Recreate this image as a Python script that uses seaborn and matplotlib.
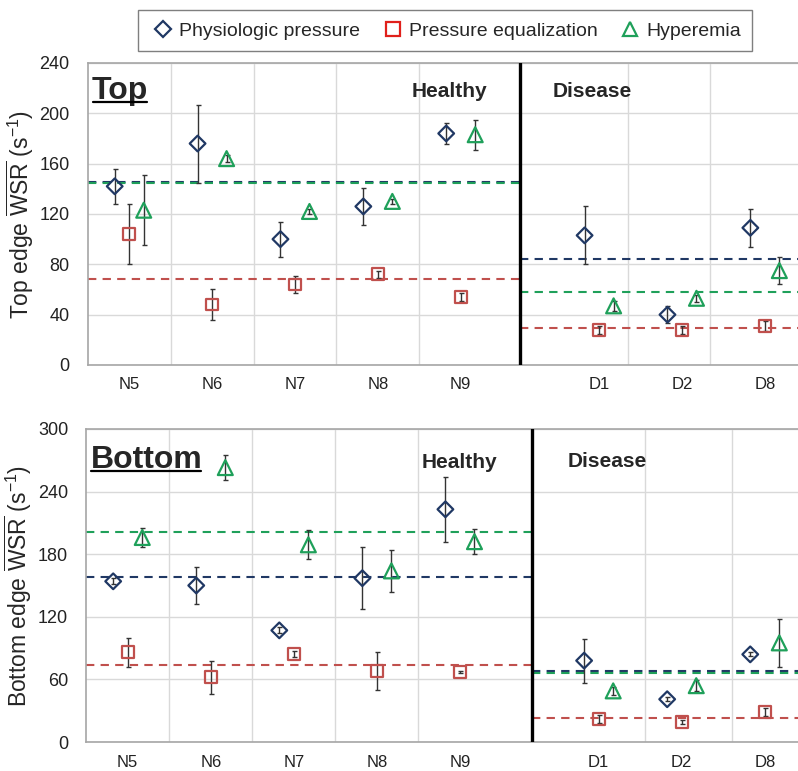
import numpy as np
import pandas as pd
import matplotlib
matplotlib.use("Agg")
import matplotlib.pyplot as plt
from matplotlib.lines import Line2D
from matplotlib.transforms import IdentityTransform
import seaborn as sns

# ==============================
# DATOS
# ==============================

healthy = ["N5", "N6", "N7", "N8", "N9"]
disease = ["D1", "D2", "D8"]
series = ["Physiologic pressure", "Pressure equalization", "Hyperemia"]

# Top edge WSR (s^-1): media y barra de error
top_phys = [142, 176, 100, 126, 184, 103, 40, 109]
top_phys_err = [14, 31, 14, 15, 8, 23, 7, 15]
top_press = [104, 48, 64, 72, 54, 28, 28, 31]
top_press_err = [24, 12, 7, 3, 3, 3, 3, 4]
top_hyp = [123, 164, 122, 130, 183, 47, 53, 75]
top_hyp_err = [28, 3, 2, 2, 12, 4, 3, 11]

# Bottom edge WSR (s^-1)
bot_phys = [154, 150, 107, 157, 223, 78, 41, 84]
bot_phys_err = [3, 18, 3, 30, 31, 21, 2, 2]
bot_press = [86, 62, 84, 68, 67, 22, 19, 29]
bot_press_err = [14, 16, 3, 18, 1, 4, 2, 4]
bot_hyp = [196, 263, 189, 164, 192, 49, 54, 95]
bot_hyp_err = [9, 12, 14, 20, 12, 4, 5, 23]

# ==============================
# ESTILO
# ==============================

sns.set_theme(style="whitegrid")
plt.rcParams["font.family"] = ["Liberation Sans", "DejaVu Sans"]
plt.rcParams["mathtext.fontset"] = "custom"
plt.rcParams["mathtext.rm"] = "Liberation Sans"
plt.rcParams["mathtext.it"] = "Liberation Sans:italic"
plt.rcParams["mathtext.bf"] = "Liberation Sans:bold"

COLORS = ["#203864", "#C0504D", "#1FA05A"]
MARKERS = ["D", "s", "^"]
SIZES = [64, 72, 115]
OFFSETS = [-0.175, 0.0, 0.175]
GRID = "#D9D9D9"
SPINE = "#A6A6A6"

x_pos = np.array([0, 1, 2, 3, 4, 5.67, 6.67, 7.67])
labels = healthy + disease


def panel(ax, values, errors, ymax, ystep, divider, d_grid, title, title_pos,
          hpos, dpos, ylabel):
    nh = len(healthy)
    rows = []
    for name, vals, errs in zip(series, values, errors):
        for lab, xp, v, e in zip(labels, x_pos, vals, errs):
            rows.append({"serie": name, "cat": lab, "x": xp, "y": v, "err": e})
    df = pd.DataFrame(rows)

    # lineas de media por grupo
    for name, col in zip(series, COLORS):
        sub = df[df["serie"] == name]
        mh = sub["y"].iloc[:nh].mean()
        md = sub["y"].iloc[nh:].mean()
        ax.hlines(mh, -0.5, divider, colors=col, linestyles=(0, (4, 3)), lw=1.5, zorder=2)
        ax.hlines(md, divider, 8.07, colors=col, linestyles=(0, (4, 3)), lw=1.5, zorder=2)

    for name, col, mk, sz, off in zip(series, COLORS, MARKERS, SIZES, OFFSETS):
        sub = df[df["serie"] == name]
        xs = sub["x"].values + off
        ax.errorbar(xs, sub["y"], yerr=sub["err"], fmt="none", ecolor="#333333",
                    elinewidth=1.0, capsize=1.8, capthick=1.0, zorder=3)
        sns.scatterplot(x=xs, y=sub["y"].values, marker=mk, s=sz, color=col,
                        facecolor="none", edgecolor=col, linewidth=1.6, ax=ax, zorder=4)

    ax.axvline(divider, color="black", lw=2.4, zorder=5)

    ax.set_xlim(-0.5, 8.07)
    ax.set_ylim(0, ymax)
    ax.set_yticks(np.arange(0, ymax + 1, ystep))
    ax.set_xticks(x_pos)
    ax.set_xticklabels(labels)
    ax.set_xticks([0.5, 1.5, 2.5, 3.5] + d_grid, minor=True)
    ax.grid(False)
    ax.grid(True, axis="y", which="major", color=GRID, lw=1.0)
    ax.grid(True, axis="x", which="minor", color=GRID, lw=1.0)
    ax.tick_params(axis="both", which="both", length=0)
    ax.tick_params(axis="y", labelsize=13, pad=13, colors="#222222")
    ax.tick_params(axis="x", labelsize=12, pad=9, colors="#222222")
    for s in ax.spines.values():
        s.set_color(SPINE)
        s.set_linewidth(1.2)
    ax.spines["right"].set_visible(False)
    ax.set_ylabel(ylabel, fontsize=16.5)

    t = ax.text(title_pos[0], title_pos[1], title, transform=ax.transAxes,
                fontsize=23, fontweight="bold", ha="left", va="baseline")
    ax.text(hpos[0], hpos[1], "Healthy", transform=ax.transAxes, fontsize=15,
            fontweight="bold", ha="right", va="baseline")
    ax.text(dpos[0], dpos[1], "Disease", transform=ax.transAxes, fontsize=15,
            fontweight="bold", ha="left", va="baseline")
    return t


fig = plt.figure(figsize=(7.98, 7.71), dpi=100)
ax_top = fig.add_axes([0.110, 0.5266, 0.890, 0.3917])
ax_bot = fig.add_axes([0.108, 0.0376, 0.892, 0.406])

t1 = panel(ax_top, [top_phys, top_press, top_hyp], [top_phys_err, top_press_err, top_hyp_err],
           240, 40, 4.71, [6.02, 7.01], "Top", (0.006, 0.881), (0.562, 0.887), (0.655, 0.887),
           r"Top edge $\overline{\mathrm{WSR}}$ (s$^{-1}$)")
t2 = panel(ax_bot, [bot_phys, bot_press, bot_hyp], [bot_phys_err, bot_press_err, bot_hyp_err],
           300, 60, 4.87, [6.23, 7.27], "Bottom", (0.006, 0.875), (0.577, 0.875), (0.676, 0.88),
           r"Bottom edge $\overline{\mathrm{WSR}}$ (s$^{-1}$)")

ax_top.yaxis.set_label_coords(-0.073, 0.5)
ax_bot.yaxis.set_label_coords(-0.074, 0.5)

# subrayado de los titulos
fig.canvas.draw()
renderer = fig.canvas.get_renderer()
for t in (t1, t2):
    bb = t.get_window_extent(renderer)
    base = t.get_transform().transform(t.get_position())[1]
    fig.add_artist(Line2D([bb.x0 + 1, bb.x1 - 1], [base - 3, base - 3], color="black",
                          lw=1.6, transform=IdentityTransform()))

handles = [Line2D([], [], ls="none", marker=m, markersize=ms, markerfacecolor="none",
                  markeredgecolor=c, markeredgewidth=1.6)
           for m, c, ms in zip(MARKERS, ["#203864", "#E0201B", "#1FA05A"], [8, 10, 10])]
fig.legend(handles, series, loc="center", bbox_to_anchor=(0.558, 0.960), ncol=3,
           frameon=True, fancybox=False, edgecolor="#7F7F7F", fontsize=14,
           handlelength=1.4, handletextpad=0.1, columnspacing=1.0, borderpad=0.6,
           framealpha=1)

fig.savefig("out.png", dpi=100)
